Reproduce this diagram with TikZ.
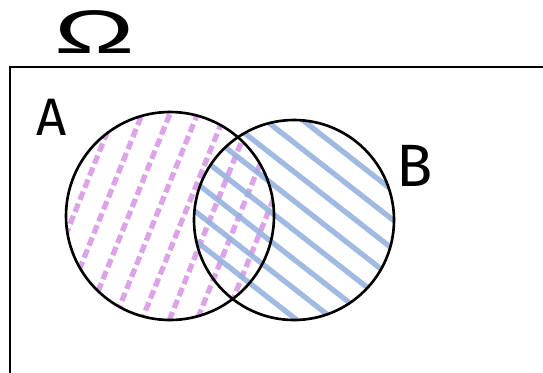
\documentclass[tikz,border=0pt]{standalone}
\usepackage{fontspec}
\setsansfont{Fira Sans}
\newfontfamily\omegafont{Liberation Sans}
\usetikzlibrary{calc}
\definecolor{hatchlilac}{RGB}{221,163,232}
\definecolor{hatchblue}{RGB}{150,178,222}

\begin{document}
\begin{tikzpicture}[x=0.02cm,y=-0.02cm,
 setline/.style={line width=1.5pt,draw=black},
 lilachatch/.style={line width=3pt,draw=hatchlilac,dash pattern=on 5pt off 2.4pt},
 bluehatch/.style={line width=3pt,draw=hatchblue,opacity=0.9,line cap=round},
 setlabel/.style={font=\sffamily\fontsize{30}{30}\selectfont,inner sep=0pt}]
 \useasboundingbox (0,0) rectangle (543,372);
 \coordinate (ca) at (170,216);
 \coordinate (cb) at (294,220);
 % hatching of A
 \begin{scope}
  \clip (ca) circle (104);
  \foreach \k in {-3.5,-2.5,...,3.5}
   \draw[lilachatch] ($(ca)+(\k*25.6*0.927+0.375*120,\k*25.6*0.375-0.927*120)$)
     -- ($(ca)+(\k*25.6*0.927-0.375*120,\k*25.6*0.375+0.927*120)$);
 \end{scope}
 % hatching of B
 \begin{scope}
  \clip (cb) circle (100);
  \foreach \k in {0,...,7}
   \draw[bluehatch] ($(cb)+(-0.616*23*\k+0.616*84-0.788*120,0.788*23*\k-0.788*84-0.616*120)$)
     -- ($(cb)+(-0.616*23*\k+0.616*84+0.788*120,0.788*23*\k-0.788*84+0.616*120)$);
 \end{scope}
 \draw[setline] (ca) circle (104);
 \draw[setline] (cb) circle (100);
 \draw[line width=1.7pt] (560,67) -| (10,390);
 \node[setlabel] (laba) at (52,117) {A};
 \node[setlabel,font=\sffamily\fontsize{34}{34}\selectfont] (labb) at (415,166) {B};
 \node[setlabel,font=\omegafont\fontsize{35}{35}\selectfont,xscale=1.75] (omega) at (95,32) {Ω};
\end{tikzpicture}
\end{document}
